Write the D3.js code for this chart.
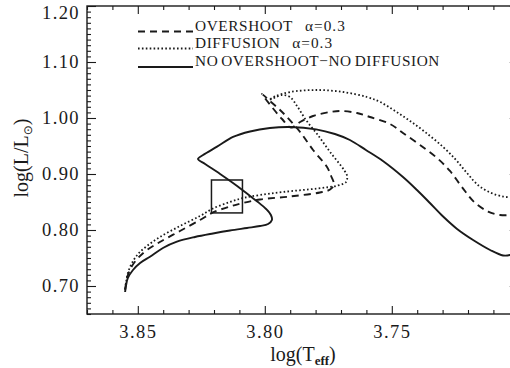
<!DOCTYPE html>
<html><head><meta charset="utf-8">
<script src="https://cdn.jsdelivr.net/npm/d3@7"></script>
<style>body{margin:0;background:#fff}svg{display:block}</style>
</head><body>
<svg id="c" width="510" height="368"></svg>
<script>
// ---- data (log Teff, log L/Lsun) ----
const solidTeff = [3.8550,3.8546,3.8539,3.8519,3.8491,3.8452,3.8401,3.8346,3.8275,3.8204,3.8137,3.8070,3.8019,3.7987,3.7972,3.7976,3.7995,3.8027,3.8058,3.8109,3.8176,3.8235,3.8263,3.8243,3.8188,3.8125,3.8058,3.7980,3.7901,3.7798,3.7724,3.7665,3.7602,3.7535,3.7456,3.7401,3.7350,3.7298,3.7243,3.7180,3.7113,3.7062,3.7035,3.7003];
const solidLum  = [0.6893,0.7018,0.7143,0.7286,0.7411,0.7523,0.7679,0.7791,0.7875,0.7938,0.7991,0.8036,0.8071,0.8107,0.8179,0.8268,0.8375,0.8500,0.8607,0.8786,0.9000,0.9179,0.9268,0.9339,0.9488,0.9661,0.9759,0.9821,0.9839,0.9798,0.9714,0.9607,0.9429,0.9232,0.8946,0.8714,0.8482,0.8240,0.8018,0.7821,0.7643,0.7545,0.7554,0.7625];

const overTeff = [3.8550,3.8546,3.8539,3.8523,3.8499,3.8464,3.8413,3.8334,3.8255,3.8204,3.8137,3.8086,3.8019,3.7901,3.7783,3.7743,3.7728,3.7739,3.7755,3.7810,3.7861,3.7913,3.7940,3.7980,3.8011,3.7972,3.7932,3.7897,3.7861,3.7810,3.7743,3.7696,3.7637,3.7586,3.7507,3.7456,3.7389,3.7322,3.7271,3.7224,3.7176,3.7121,3.7074,3.7035,3.7003];
const overLum  = [0.6929,0.7054,0.7196,0.7357,0.7500,0.7643,0.7786,0.7982,0.8179,0.8313,0.8420,0.8482,0.8545,0.8598,0.8670,0.8723,0.8813,0.8964,0.9125,0.9429,0.9750,1.0018,1.0143,1.0304,1.0429,1.0196,0.9982,0.9830,0.9929,1.0036,1.0107,1.0125,1.0089,1.0018,0.9893,0.9732,0.9518,0.9286,0.9054,0.8768,0.8500,0.8330,0.8268,0.8268,0.8304];

const diffTeff = [3.8550,3.8546,3.8539,3.8523,3.8499,3.8464,3.8413,3.8334,3.8255,3.8204,3.8137,3.8086,3.8019,3.7928,3.7794,3.7712,3.7680,3.7676,3.7688,3.7743,3.7794,3.7838,3.7873,3.7901,3.7932,3.7964,3.7983,3.7956,3.7901,3.7794,3.7692,3.7598,3.7546,3.7487,3.7428,3.7369,3.7298,3.7247,3.7204,3.7161,3.7113,3.7062,3.7027,3.7003];
const diffLum  = [0.6946,0.7071,0.7232,0.7411,0.7571,0.7714,0.7875,0.8071,0.8250,0.8384,0.8500,0.8571,0.8625,0.8679,0.8741,0.8795,0.8857,0.8964,0.9071,0.9393,0.9714,0.9964,1.0214,1.0375,1.0411,1.0357,1.0321,1.0393,1.0464,1.0500,1.0464,1.0375,1.0286,1.0125,0.9946,0.9750,0.9482,0.9250,0.9018,0.8804,0.8670,0.8598,0.8589,0.8643];

const boxTeff = [3.8210, 3.8088];
const boxLum  = [0.8305, 0.8893];

const xTicks = [3.85, 3.80, 3.75];
const yTicks = [0.70, 0.80, 0.90, 1.00, 1.10, 1.20];
const legendLabels = ["OVERSHOOT", "DIFFUSION", "NO OVERSHOOT\u2212NO DIFFUSION"];
const legendAlpha  = ["\u03b1=0.3", "\u03b1=0.3", ""];

// ---- drawing ----
const svg = d3.select("#c");
const FONT = "'Liberation Serif','Times New Roman',serif";
const x = d3.scaleLinear().domain([3.87, 3.70]).range([87, 518.8]);
const y = d3.scaleLinear().domain([0.65, 1.20]).range([314, 6]);
const ink = "#1a1a1a";

const minorX = d3.range(370, 388).map(v => v / 100).filter(v => !xTicks.some(t => Math.abs(t - v) < 1e-6));
const minorY = d3.range(65, 121).map(v => v / 100).filter(v => !yTicks.some(t => Math.abs(t - v) < 1e-6));

function styleAxis(g) {
  g.select(".domain").remove();
  g.selectAll(".tick line").attr("stroke", ink).attr("stroke-width", 1.1);
  g.selectAll("text").attr("fill", ink).style("font-family", FONT)
   .style("font-size", "18.5px").style("letter-spacing", "1.4px");
}
// major axes
svg.append("g").attr("transform", "translate(0,314)")
  .call(d3.axisBottom(x).tickValues(xTicks).tickSize(-8).tickPadding(11).tickFormat(d3.format(".2f"))).call(styleAxis);
svg.append("g").attr("transform", "translate(0,6)")
  .call(d3.axisTop(x).tickValues(xTicks).tickSize(-8).tickFormat("")).call(styleAxis);
const yl = svg.append("g").attr("transform", "translate(87,0)")
  .call(d3.axisLeft(y).tickValues(yTicks).tickSize(-9).tickPadding(7).tickFormat(d3.format(".2f"))).call(styleAxis);
yl.selectAll(".tick").filter(d => Math.abs(d - 1.2) < 1e-6).select("text").attr("y", 7);
svg.append("g").attr("transform", `translate(${x(3.70)},0)`)
  .call(d3.axisRight(y).tickValues(yTicks).tickSize(-9).tickFormat("")).call(styleAxis);
// minor ticks
svg.append("g").attr("transform", "translate(0,314)")
  .call(d3.axisBottom(x).tickValues(minorX).tickSize(-4).tickFormat("")).call(styleAxis);
svg.append("g").attr("transform", "translate(0,6)")
  .call(d3.axisTop(x).tickValues(minorX).tickSize(-4).tickFormat("")).call(styleAxis);
svg.append("g").attr("transform", "translate(87,0)")
  .call(d3.axisLeft(y).tickValues(minorY).tickSize(-4).tickFormat("")).call(styleAxis);
svg.append("g").attr("transform", `translate(${x(3.70)},0)`)
  .call(d3.axisRight(y).tickValues(minorY).tickSize(-4).tickFormat("")).call(styleAxis);

// frame
svg.append("rect").attr("x", x(3.87)).attr("y", y(1.20))
  .attr("width", x(3.70) - x(3.87)).attr("height", y(0.65) - y(1.20))
  .attr("fill", "none").attr("stroke", ink).attr("stroke-width", 1.4);

// tracks
const line = d3.line().x(d => x(d[0])).y(d => y(d[1])).curve(d3.curveCatmullRom.alpha(0.5));
const styles = {
  over: {dash: "7,5", w: 1.9},
  diff: {dash: "1.6,2.3", w: 1.8},
  solid: {dash: null, w: 1.9}
};
svg.append("path").datum(d3.zip(diffTeff, diffLum)).attr("d", line)
  .attr("fill", "none").attr("stroke", ink).attr("stroke-width", styles.diff.w).attr("stroke-dasharray", styles.diff.dash);
svg.append("path").datum(d3.zip(overTeff, overLum)).attr("d", line)
  .attr("fill", "none").attr("stroke", ink).attr("stroke-width", styles.over.w).attr("stroke-dasharray", styles.over.dash);
svg.append("path").datum(d3.zip(solidTeff, solidLum)).attr("d", line)
  .attr("fill", "none").attr("stroke", ink).attr("stroke-width", styles.solid.w);

// error box
svg.append("rect").attr("x", x(boxTeff[0])).attr("y", y(boxLum[1]))
  .attr("width", x(boxTeff[1]) - x(boxTeff[0])).attr("height", y(boxLum[0]) - y(boxLum[1]))
  .attr("fill", "none").attr("stroke", ink).attr("stroke-width", 1.5);

// legend
const legStyles = [styles.over, styles.diff, styles.solid];
const legY = [30.5, 47.5, 66];
legendLabels.forEach((lab, i) => {
  svg.append("line").attr("x1", 138).attr("x2", 193).attr("y1", legY[i] + 1).attr("y2", legY[i] + 1)
    .attr("stroke", ink).attr("stroke-width", legStyles[i].w)
    .attr("stroke-dasharray", legStyles[i].dash);
  const t = svg.append("text").attr("x", 195).attr("y", legY[i]).text(lab)
    .attr("fill", ink).style("font-family", FONT).style("font-size", "15.3px")
    .style("letter-spacing", "0.6px").style("word-spacing", "-1.5px");
  if (legendAlpha[i]) {
    const end = 195 + t.node().getComputedTextLength();
    svg.append("text").attr("x", end + 12).attr("y", legY[i]).text(legendAlpha[i])
      .attr("fill", ink).style("font-family", FONT).style("font-size", "15.3px").style("letter-spacing", "1px");
  }
});

// axis titles
const xt = svg.append("text").attr("x", 303).attr("y", 361).attr("text-anchor", "middle")
  .attr("fill", ink).style("font-family", FONT).style("font-size", "20px");
xt.append("tspan").text("log(T");
xt.append("tspan").text("eff").attr("dy", 4).style("font-size", "13px").style("font-weight", "bold");
xt.append("tspan").text(")").attr("dy", -4);

const ytl = svg.append("text").attr("transform", "translate(28,158) rotate(-90)").attr("text-anchor", "middle")
  .attr("fill", ink).style("font-family", FONT).style("font-size", "20px");
ytl.append("tspan").text("log(L/L");
ytl.append("tspan").text("\u2299").attr("dy", 4).style("font-size", "12px").style("font-family", "'DejaVu Sans',sans-serif");
ytl.append("tspan").text(")").attr("dy", -4);
</script>
</body></html>
